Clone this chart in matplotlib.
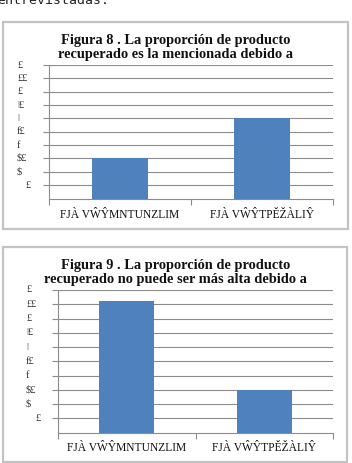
import matplotlib
matplotlib.use("Agg")
import matplotlib.pyplot as plt
from matplotlib.patches import Rectangle
import matplotlib.transforms as mtransforms

# data (tick labels are garbled in the source, kept as is)
categories = ["FJÀ VŴŶMNTUNZLIM", "FJÀ VŴŶTPĚŽÀLIŶ"]
fig8_values = [3, 6]
fig9_values = [9.2, 3]
ytick_values = [1, 2, 3, 4, 5, 6, 7, 8, 9, 10]
ytick_labels = ["£", "$", "$£", "f", "f£", "ǀ", "ǀ£", "£", "££", "£"]
titles = [
    "Figura 8 . La proporción de producto\nrecuperado es la mencionada debido a",
    "Figura 9 . La proporción de producto\nrecuperado no puede ser más alta debido a",
]

W, H = 352, 463
BAR = "#4f81bd"
GRID = "#8c8c8c"
SERIF = ["Liberation Serif", "DejaVu Serif"]

fig = plt.figure(figsize=(W / 100, H / 100), dpi=100)


def px_axes(left, top, right, bottom):
    return fig.add_axes([left / W, 1 - bottom / H, (right - left) / W, (bottom - top) / H])


def frame(left, top, right, bottom):
    fig.patches.append(Rectangle((left / W, 1 - bottom / H), (right - left) / W, (bottom - top) / H,
                                 transform=fig.transFigure, fill=False, ec="#c3c3c3", lw=1.6))


def draw_chart(ax, values, title, title_y, lab_x, lab_y, first_dx):
    x = list(range(len(categories)))
    ax.set_axisbelow(True)
    ax.bar(x, values, width=0.4, color=BAR, zorder=3)
    ax.set_xlim(-0.5, len(categories) - 0.5)
    ax.set_ylim(0, 10)
    ax.set_yticks(ytick_values)
    ax.set_yticklabels([])
    ax.yaxis.grid(True, color=GRID, lw=0.8)
    ax.tick_params(axis="y", length=4, width=0.8, color=GRID, direction="out")
    ax.set_xticks([-0.5, 0.5, 1.5])
    ax.set_xticklabels([])
    ax.tick_params(axis="x", length=4, width=0.8, color=GRID, direction="out")
    for s in ["top", "right"]:
        ax.spines[s].set_visible(False)
    for s in ["left", "bottom"]:
        ax.spines[s].set_color(GRID)
        ax.spines[s].set_linewidth(0.8)

    trans_y = mtransforms.blended_transform_factory(ax.transAxes, ax.transData)
    for i, (v, lab) in enumerate(zip(ytick_values, ytick_labels)):
        dx = first_dx if i == 0 else 0
        ax.text(lab_x + dx, v, lab, transform=trans_y, ha="left", va="center",
                fontsize=7.5, family=SERIF, color="#333333")

    trans_x = mtransforms.blended_transform_factory(ax.transData, ax.transAxes)
    for i, c in enumerate(categories):
        ax.text(i, lab_y, c, transform=trans_x, ha="center", va="center",
                fontsize=8.3, family=SERIF, color="#111111")

    fig.text(175.5 / W, 1 - title_y / H, title, ha="center", va="center",
             fontsize=10.4, fontweight="bold", family=SERIF, linespacing=1.12, color="#111111")


# chart frames
frame(3, 22, 348, 229)
frame(3, 247, 347, 462)

ax1 = px_axes(49, 65, 333, 198.5)
draw_chart(ax1, fig8_values, titles[0], 47.5, (17 - 49) / 284, (198.5 - 215) / 133.5, 8 / 284)

ax2 = px_axes(58, 290, 333, 432.7)
draw_chart(ax2, fig9_values, titles[1], 272.5, (26 - 58) / 275, (432.7 - 448) / 142.7, 9 / 275)

# tail of the text above, cut by the page crop
fig.text(-3 / W, 1 - 3.5 / H, "entrevistadas.", family="DejaVu Sans Mono", fontsize=9.5,
         va="baseline", ha="left", color="#222222")

fig.savefig("out.png", dpi=100)
